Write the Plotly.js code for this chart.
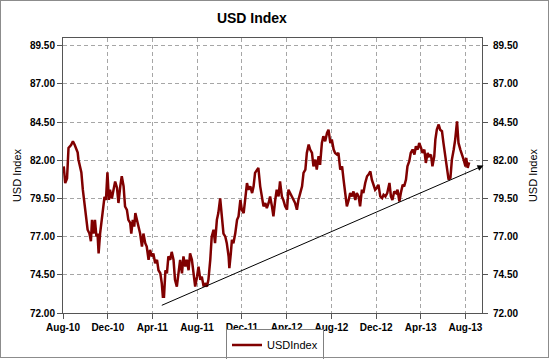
<!DOCTYPE html>
<html>
<head>
<meta charset="utf-8">
<script src="https://cdn.plot.ly/plotly-3.0.1.min.js"></script>
<style>
  html, body { margin: 0; padding: 0; background: #fff; }
  #wrap { position: relative; width: 550px; height: 359px; }
  #chart { width: 550px; height: 359px; }
  #frame { position: absolute; left: 0; top: 0; width: 547px; height: 356px; border: 1px solid #8c8c8c; pointer-events: none; }
</style>
</head>
<body>
<div id="wrap"><div id="chart"></div><div id="frame"></div></div>
<script>
const dates = [
'2010-08-03','2010-08-07','2010-08-12','2010-08-16','2010-08-23','2010-08-28','2010-09-02','2010-09-06','2010-09-10','2010-09-12',
'2010-09-17','2010-09-20','2010-09-24','2010-09-28','2010-10-03','2010-10-07','2010-10-12','2010-10-16','2010-10-19','2010-10-23',
'2010-10-27','2010-10-31','2010-11-03','2010-11-06','2010-11-10','2010-11-15','2010-11-19','2010-11-22','2010-11-26','2010-11-30',
'2010-12-04','2010-12-07','2010-12-12','2010-12-16','2010-12-21','2010-12-26','2010-12-30','2011-01-04','2011-01-08','2011-01-13',
'2011-01-17','2011-01-22','2011-01-26','2011-01-31','2011-02-03','2011-02-07','2011-02-11','2011-02-14','2011-02-18','2011-02-23',
'2011-02-27','2011-03-04','2011-03-08','2011-03-13','2011-03-17','2011-03-22','2011-03-26','2011-03-31','2011-04-04','2011-04-09',
'2011-04-14','2011-04-18','2011-04-23','2011-04-27','2011-04-30','2011-05-03','2011-05-07','2011-05-11','2011-05-15','2011-05-20',
'2011-05-24','2011-05-29','2011-06-02','2011-06-07','2011-06-11','2011-06-16','2011-06-21','2011-06-25','2011-06-30','2011-07-04',
'2011-07-09','2011-07-13','2011-07-18','2011-07-22','2011-07-27','2011-08-01','2011-08-05','2011-08-10','2011-08-14','2011-08-19',
'2011-08-23','2011-08-28','2011-09-01','2011-09-06','2011-09-10','2011-09-15','2011-09-19','2011-09-24','2011-09-28','2011-10-03',
'2011-10-08','2011-10-12','2011-10-17','2011-10-21','2011-10-26','2011-10-28','2011-11-01','2011-11-04','2011-11-08','2011-11-13',
'2011-11-18','2011-11-22','2011-11-27','2011-12-01','2011-12-06','2011-12-10','2011-12-15','2011-12-19','2011-12-24','2011-12-29',
'2012-01-02','2012-01-06','2012-01-11','2012-01-15','2012-01-20','2012-01-25','2012-01-29','2012-02-03','2012-02-07','2012-02-12',
'2012-02-16','2012-02-21','2012-02-25','2012-03-01','2012-03-05','2012-03-10','2012-03-14','2012-03-19','2012-03-23','2012-03-28',
'2012-04-02','2012-04-06','2012-04-11','2012-04-15','2012-04-20','2012-04-24','2012-04-29','2012-05-03','2012-05-08','2012-05-13',
'2012-05-17','2012-05-22','2012-05-26','2012-05-31','2012-06-04','2012-06-09','2012-06-13','2012-06-18','2012-06-22','2012-06-27',
'2012-07-01','2012-07-06','2012-07-10','2012-07-15','2012-07-20','2012-07-24','2012-07-29','2012-08-02','2012-08-07','2012-08-11',
'2012-08-16','2012-08-20','2012-08-25','2012-08-30','2012-09-03','2012-09-08','2012-09-12','2012-09-17','2012-09-21','2012-09-26',
'2012-09-30','2012-10-05','2012-10-09','2012-10-14','2012-10-18','2012-10-23','2012-10-27','2012-11-01','2012-11-06','2012-11-10',
'2012-11-15','2012-11-19','2012-11-24','2012-11-28','2012-12-03','2012-12-07','2012-12-12','2012-12-17','2012-12-21','2012-12-26',
'2012-12-31','2013-01-03','2013-01-06','2013-01-10','2013-01-14','2013-01-19','2013-01-24','2013-01-28','2013-02-02','2013-02-06',
'2013-02-11','2013-02-15','2013-02-20','2013-02-24','2013-03-01','2013-03-05','2013-03-10','2013-03-15','2013-03-19','2013-03-24',
'2013-03-28','2013-04-02','2013-04-06','2013-04-11','2013-04-15','2013-04-20','2013-04-24','2013-04-29','2013-05-03','2013-05-08',
'2013-05-11','2013-05-15','2013-05-20','2013-05-24','2013-05-29','2013-06-02','2013-06-07','2013-06-12','2013-06-16','2013-06-21',
'2013-06-25','2013-06-30','2013-07-04','2013-07-09','2013-07-13','2013-07-18','2013-07-23','2013-07-27','2013-08-01','2013-08-03',
'2013-08-07','2013-08-11'
];
const usdIndex = [
81.6,80.5,80.8,82.8,83.0,83.24,83.0,82.7,82.5,82.05,
81.4,81.2,80.07,79.2,78.3,77.45,77.2,76.7,78.1,77.2,
78.1,77.0,77.2,75.9,77.2,78.3,78.75,79.6,79.4,81.2,
79.4,80.07,79.5,80.07,80.6,80.2,79.2,80.3,80.95,80.3,
78.97,78.75,78.1,77.9,77.2,78.1,77.66,78.54,78.1,77.45,
77.2,76.35,77.2,76.57,76.35,75.48,76.13,75.7,75.9,75.26,
75.48,74.8,74.6,73.95,73.07,73.07,74.8,74.6,75.7,75.48,
76.0,75.48,74.17,73.73,74.6,75.48,74.6,75.7,75.04,75.48,
74.8,75.9,75.48,74.6,73.73,74.38,75.04,74.17,74.38,73.73,
73.95,73.73,74.17,75.48,77.0,77.45,76.57,78.1,78.54,79.5,
78.1,77.2,77.0,76.57,75.7,74.93,75.9,76.79,76.57,77.2,
78.1,78.32,79.4,78.75,78.54,79.63,80.5,80.07,80.29,79.85,
80.29,81.17,81.38,81.5,80.29,79.63,78.98,79.2,78.87,79.2,
79.63,78.98,78.32,79.4,80.07,79.63,80.62,79.63,79.4,78.98,
78.76,80.07,79.85,79.63,79.4,79.2,78.76,79.4,79.85,80.29,
81.17,81.38,82.48,83.02,82.7,82.48,81.6,82.04,81.38,82.26,
81.7,83.13,83.57,83.24,83.79,84.0,83.13,83.35,82.7,82.48,
82.37,82.48,81.38,81.6,80.73,79.85,78.98,79.4,79.85,79.63,
79.96,79.4,79.85,79.63,78.98,80.07,79.85,80.51,80.95,81.06,
81.27,80.73,80.29,80.07,80.2,80.4,79.63,79.52,79.74,79.63,
79.85,80.29,80.51,79.63,79.4,79.96,79.85,80.07,79.3,79.85,
80.4,80.29,80.73,81.6,81.93,82.48,82.7,82.37,82.91,82.7,
83.13,82.8,82.48,82.7,81.82,82.48,82.26,82.37,81.6,82.26,
83.35,84.0,84.34,84.0,83.9,83.13,82.26,81.38,80.73,80.84,
82.04,82.7,83.35,84.55,83.13,82.7,82.37,82.04,81.6,82.15,
81.5,81.86
];
const xTickDates = ['2010-08-01','2010-12-01','2011-04-01','2011-08-01','2011-12-01','2012-04-01','2012-08-01','2012-12-01','2013-04-01','2013-08-01'];
const xTickLabels = ['Aug-10','Dec-10','Apr-11','Aug-11','Dec-11','Apr-12','Aug-12','Dec-12','Apr-13','Aug-13'];
const yTickValues = [72.0,74.5,77.0,79.5,82.0,84.5,87.0,89.5];
const trendStart = {date: '2011-04-23', value: 72.46};
const trendEnd = {date: '2013-09-19', value: 81.65};

const FONT = 'Liberation Sans, Arial, sans-serif';
const tickFont = {family: FONT, size: 10, color: '#000', weight: 'bold'};
const yCommon = {
  range: [72, 90],
  tickvals: yTickValues,
  tickformat: '.2f',
  ticks: 'outside', ticklen: 5, tickcolor: '#555',
  tickfont: tickFont,
  showline: true, linecolor: '#555', linewidth: 1,
  zeroline: false,
  fixedrange: true
};

const traces = [{
  x: dates, y: usdIndex, type: 'scatter', mode: 'lines', name: 'USDIndex',
  line: {color: '#800000', width: 2.5}
}, {
  // empty trace so the right-hand axis is drawn
  x: [], y: [], type: 'scatter', mode: 'lines', yaxis: 'y2',
  showlegend: false, hoverinfo: 'skip'
}];

const layout = {
  width: 550, height: 359,
  margin: {l: 63, r: 68, t: 38, b: 46},
  paper_bgcolor: '#fff', plot_bgcolor: '#fff',
  font: {family: FONT, size: 11, color: '#000'},
  title: {text: 'USD Index', font: {family: FONT, size: 14, weight: 'bold', color: '#000'},
          xref: 'container', x: 0.458, xanchor: 'center', yref: 'container', y: 0.949, yanchor: 'middle'},
  xaxis: {
    type: 'date', range: ['2010-08-01', '2013-09-15'],
    tickvals: xTickDates, ticktext: xTickLabels,
    ticks: 'outside', ticklen: 5, tickcolor: '#555',
    tickfont: tickFont,
    showgrid: true, gridcolor: '#a6a6a6', griddash: '4px,3px', gridwidth: 1,
    showline: true, linecolor: '#555', linewidth: 1, mirror: true,
    zeroline: false, fixedrange: true
  },
  yaxis: Object.assign({}, yCommon, {
    side: 'left', mirror: false,
    showgrid: true, gridcolor: '#a6a6a6', griddash: '4px,3px', gridwidth: 1,
    title: {text: 'USD Index', font: {family: FONT, size: 11}, standoff: 6}
  }),
  yaxis2: Object.assign({}, yCommon, {
    side: 'right', overlaying: 'y', anchor: 'x', showgrid: false,
    ticklabelstandoff: 3,
    title: {text: 'USD Index', font: {family: FONT, size: 11}, standoff: 11}
  }),
  showlegend: true,
  legend: {
    orientation: 'h', xref: 'container', yref: 'container',
    x: 0.5, xanchor: 'center', y: 0.039, yanchor: 'middle',
    bordercolor: '#808080', borderwidth: 1, bgcolor: '#fff',
    font: {family: FONT, size: 11, color: '#000'}
  },
  annotations: [{
    xref: 'x', yref: 'y', axref: 'x', ayref: 'y',
    x: trendEnd.date, y: trendEnd.value, ax: trendStart.date, ay: trendStart.value,
    showarrow: true, arrowhead: 2, arrowsize: 1.2, arrowwidth: 1, arrowcolor: '#000', text: ''
  }]
};

Plotly.newPlot('chart', traces, layout, {displayModeBar: false, staticPlot: true});
</script>
</body>
</html>
